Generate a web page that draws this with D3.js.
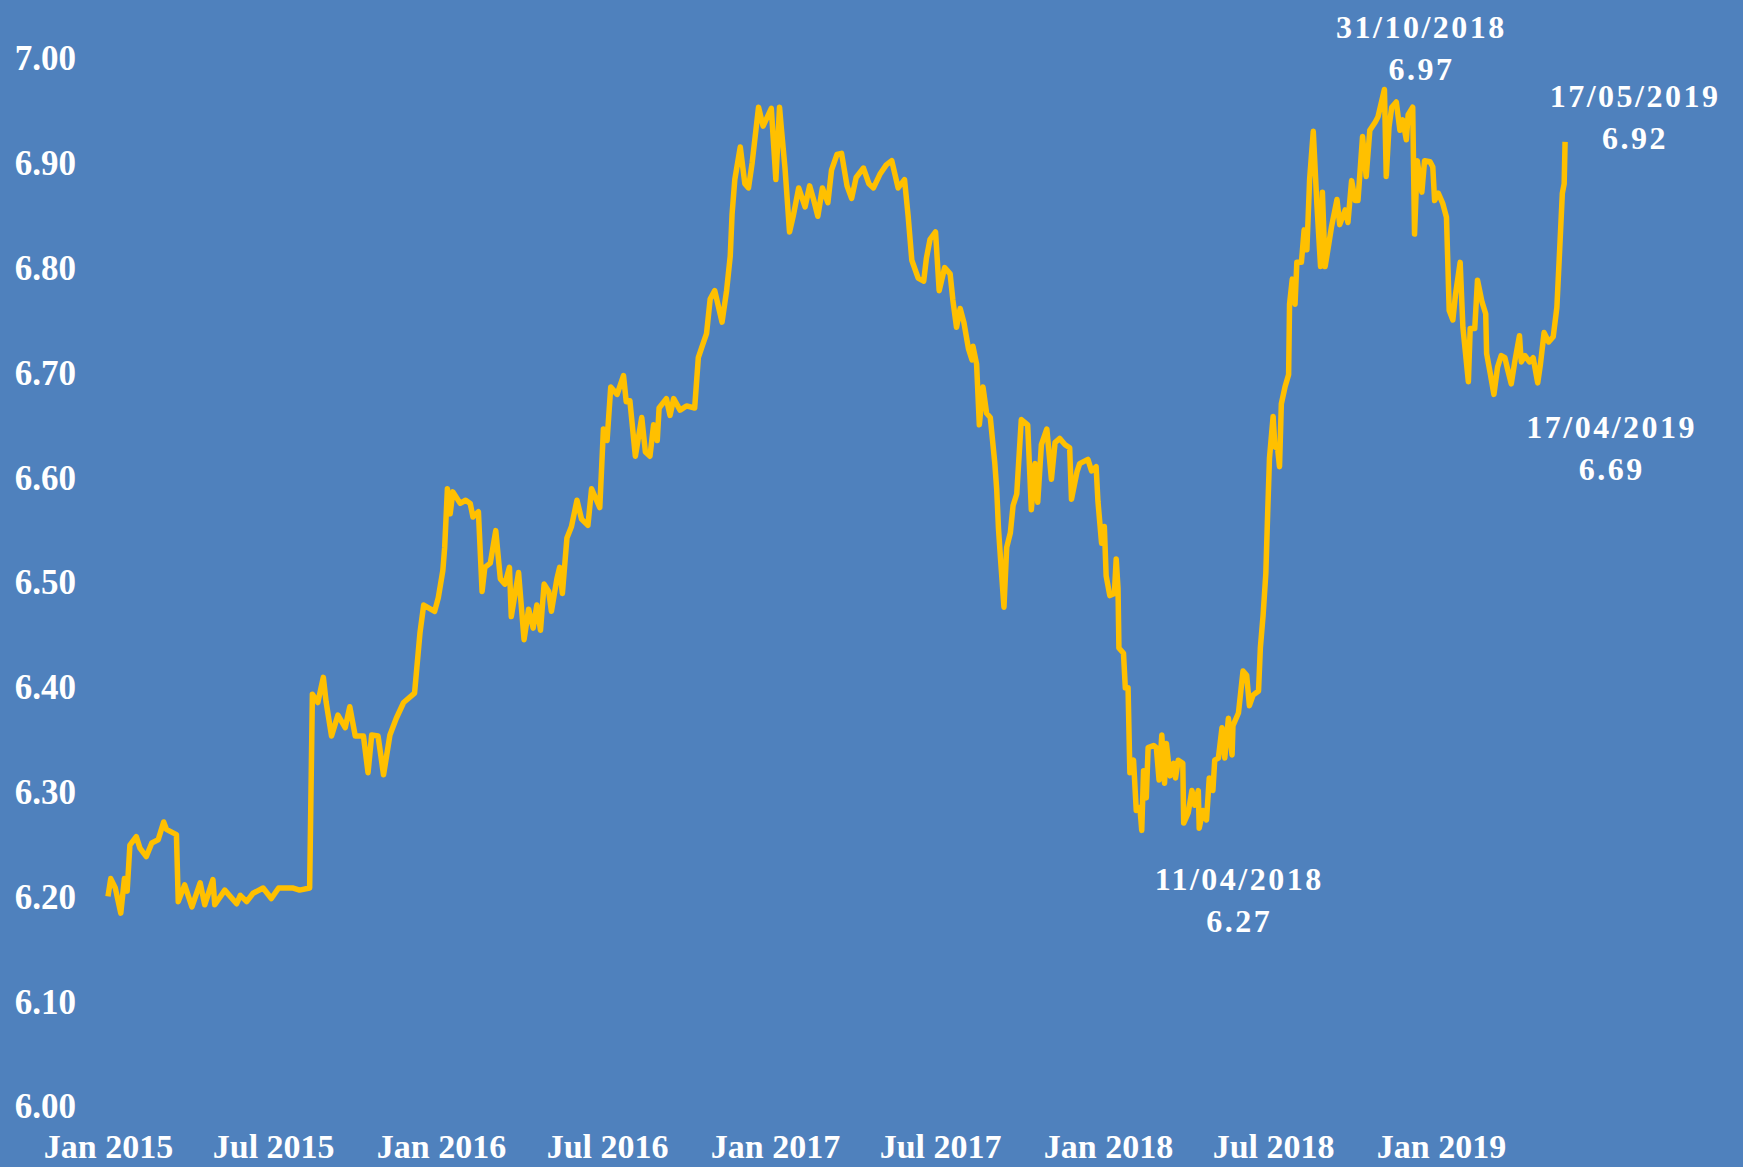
<!DOCTYPE html>
<html>
<head>
<meta charset="utf-8">
<script src="https://cdn.jsdelivr.net/npm/d3@7"></script>
<style>
  body { margin: 0; background: #4f81bd; }
  svg text { font-family: "Liberation Serif", "DejaVu Serif", serif; font-weight: bold; fill: #fff; }
</style>
</head>
<body>
<div class="report"></div>
<script>
// USD/CNY
var dates = [
  "2015-01-01","2015-01-04","2015-01-09","2015-01-15","2015-01-19","2015-01-22","2015-01-25","2015-02-01","2015-02-05","2015-02-12",
  "2015-02-18","2015-02-25","2015-03-03","2015-03-06","2015-03-17","2015-03-19","2015-03-26","2015-04-03","2015-04-12","2015-04-17",
  "2015-04-26","2015-04-28","2015-05-09","2015-05-22","2015-05-26","2015-06-02","2015-06-09","2015-06-20","2015-06-29","2015-07-07",
  "2015-07-23","2015-07-30","2015-08-10","2015-08-13","2015-08-19","2015-08-25","2015-08-28","2015-09-03","2015-09-10","2015-09-18",
  "2015-09-23","2015-09-29","2015-10-08","2015-10-13","2015-10-17","2015-10-24","2015-10-30","2015-11-06","2015-11-13","2015-11-21",
  "2015-12-03","2015-12-09","2015-12-13","2015-12-25","2015-12-29","2016-01-03","2016-01-05","2016-01-08","2016-01-11","2016-01-14",
  "2016-01-22","2016-01-28","2016-02-02","2016-02-05","2016-02-11","2016-02-15","2016-02-18","2016-02-24","2016-03-01","2016-03-06",
  "2016-03-11","2016-03-16","2016-03-18","2016-03-26","2016-04-01","2016-04-06","2016-04-11","2016-04-15","2016-04-19","2016-04-23",
  "2016-04-28","2016-05-01","2016-05-07","2016-05-10","2016-05-13","2016-05-18","2016-05-23","2016-05-29","2016-06-03","2016-06-10",
  "2016-06-14","2016-06-23","2016-06-27","2016-07-01","2016-07-05","2016-07-12","2016-07-19","2016-07-22","2016-07-26","2016-08-01",
  "2016-08-08","2016-08-12","2016-08-17","2016-08-21","2016-08-25","2016-08-27","2016-09-04","2016-09-08","2016-09-12","2016-09-19",
  "2016-09-26","2016-10-05","2016-10-09","2016-10-14","2016-10-18","2016-10-22","2016-10-27","2016-11-04","2016-11-09","2016-11-13",
  "2016-11-15","2016-11-18","2016-11-24","2016-11-29","2016-12-03","2016-12-07","2016-12-14","2016-12-19","2016-12-28","2017-01-02",
  "2017-01-06","2017-01-08","2017-01-12","2017-01-17","2017-01-21","2017-01-27","2017-02-03","2017-02-08","2017-02-12","2017-02-17",
  "2017-02-22","2017-02-28","2017-03-04","2017-03-10","2017-03-15","2017-03-21","2017-03-26","2017-03-31","2017-04-08","2017-04-14",
  "2017-04-19","2017-04-26","2017-05-03","2017-05-09","2017-05-16","2017-05-23","2017-05-27","2017-05-31","2017-06-07","2017-06-13",
  "2017-06-16","2017-06-20","2017-06-26","2017-06-30","2017-07-06","2017-07-12","2017-07-15","2017-07-19","2017-07-23","2017-07-27",
  "2017-08-01","2017-08-05","2017-08-06","2017-08-10","2017-08-13","2017-08-17","2017-08-21","2017-08-25","2017-08-30","2017-09-01",
  "2017-09-03","2017-09-05","2017-09-09","2017-09-12","2017-09-16","2017-09-19","2017-09-23","2017-09-28","2017-10-05","2017-10-09",
  "2017-10-13","2017-10-16","2017-10-20","2017-10-26","2017-10-31","2017-11-04","2017-11-09","2017-11-15","2017-11-20","2017-11-22",
  "2017-11-28","2017-12-01","2017-12-10","2017-12-14","2017-12-19","2017-12-21","2017-12-25","2017-12-28","2017-12-30","2018-01-03",
  "2018-01-08","2018-01-10","2018-01-12","2018-01-13","2018-01-18","2018-01-20","2018-01-23","2018-01-25","2018-01-29","2018-02-01",
  "2018-02-05","2018-02-07","2018-02-09","2018-02-12","2018-02-14","2018-02-20","2018-02-23","2018-02-26","2018-03-01","2018-03-04",
  "2018-03-06","2018-03-10","2018-03-14","2018-03-16","2018-03-19","2018-03-24","2018-03-25","2018-03-30","2018-04-03","2018-04-06",
  "2018-04-10","2018-04-11","2018-04-15","2018-04-19","2018-04-22","2018-04-26","2018-04-28","2018-05-02","2018-05-06","2018-05-09",
  "2018-05-13","2018-05-17","2018-05-18","2018-05-24","2018-05-29","2018-06-02","2018-06-05","2018-06-09","2018-06-15","2018-06-17",
  "2018-06-20","2018-06-23","2018-06-25","2018-06-27","2018-07-01","2018-07-03","2018-07-06","2018-07-08","2018-07-10","2018-07-14",
  "2018-07-18","2018-07-19","2018-07-22","2018-07-25","2018-07-27","2018-08-01","2018-08-04","2018-08-07","2018-08-10","2018-08-14",
  "2018-08-18","2018-08-22","2018-08-24","2018-08-27","2018-08-30","2018-09-03","2018-09-09","2018-09-12","2018-09-18","2018-09-21",
  "2018-09-25","2018-09-29","2018-10-02","2018-10-07","2018-10-11","2018-10-15","2018-10-21","2018-10-24","2018-10-31","2018-11-02",
  "2018-11-05","2018-11-08","2018-11-13","2018-11-17","2018-11-20","2018-11-24","2018-11-26","2018-12-01","2018-12-03","2018-12-06",
  "2018-12-11","2018-12-14","2018-12-20","2018-12-23","2018-12-25","2018-12-29","2019-01-03","2019-01-07","2019-01-10","2019-01-14",
  "2019-01-17","2019-01-22","2019-01-25","2019-01-31","2019-02-02","2019-02-07","2019-02-10","2019-02-15","2019-02-19","2019-02-20",
  "2019-02-24","2019-02-28","2019-03-04","2019-03-08","2019-03-12","2019-03-15","2019-03-19","2019-03-23","2019-03-28","2019-03-30",
  "2019-04-03","2019-04-08","2019-04-12","2019-04-17","2019-04-20","2019-04-24","2019-04-29","2019-05-04","2019-05-08","2019-05-11",
  "2019-05-14","2019-05-16","2019-05-17"
];

var rates = [
  6.200,6.217,6.208,6.184,6.217,6.205,6.249,6.257,6.246,6.238,
  6.251,6.254,6.271,6.264,6.259,6.195,6.211,6.190,6.213,6.192,
  6.216,6.192,6.206,6.193,6.201,6.195,6.203,6.208,6.198,6.208,
  6.208,6.206,6.208,6.393,6.385,6.409,6.386,6.353,6.373,6.361,
  6.381,6.353,6.353,6.318,6.354,6.353,6.316,6.354,6.370,6.385,
  6.394,6.452,6.478,6.472,6.485,6.511,6.533,6.589,6.565,6.586,
  6.575,6.578,6.575,6.562,6.567,6.491,6.514,6.518,6.549,6.503,
  6.498,6.514,6.467,6.509,6.445,6.474,6.456,6.478,6.454,6.498,
  6.491,6.472,6.503,6.514,6.489,6.542,6.553,6.578,6.560,6.554,
  6.589,6.571,6.646,6.635,6.686,6.679,6.697,6.672,6.673,6.620,
  6.657,6.624,6.620,6.650,6.635,6.666,6.675,6.659,6.675,6.664,
  6.668,6.666,6.714,6.727,6.737,6.770,6.778,6.748,6.778,6.811,
  6.851,6.884,6.915,6.880,6.876,6.900,6.953,6.935,6.952,6.884,
  6.953,6.933,6.895,6.834,6.849,6.876,6.858,6.878,6.866,6.849,
  6.876,6.862,6.893,6.908,6.909,6.878,6.866,6.886,6.895,6.880,
  6.876,6.889,6.898,6.902,6.876,6.884,6.849,6.807,6.790,6.787,
  6.809,6.827,6.834,6.778,6.800,6.794,6.769,6.743,6.761,6.748,
  6.723,6.712,6.725,6.708,6.650,6.686,6.661,6.657,6.613,6.589,
  6.551,6.525,6.476,6.533,6.547,6.573,6.584,6.655,6.650,6.569,
  6.613,6.576,6.631,6.646,6.598,6.633,6.637,6.631,6.628,6.579,
  6.605,6.613,6.617,6.606,6.610,6.577,6.537,6.553,6.506,6.487,
  6.489,6.522,6.494,6.437,6.432,6.399,6.399,6.318,6.330,6.282,
  6.285,6.263,6.320,6.294,6.342,6.344,6.342,6.311,6.354,6.308,
  6.346,6.315,6.327,6.313,6.330,6.327,6.270,6.280,6.301,6.287,
  6.301,6.265,6.282,6.273,6.313,6.301,6.330,6.332,6.361,6.332,
  6.370,6.335,6.363,6.375,6.415,6.411,6.382,6.392,6.396,6.437,
  6.468,6.508,6.565,6.618,6.658,6.629,6.627,6.610,6.670,6.686,
  6.698,6.765,6.789,6.765,6.805,6.805,6.836,6.817,6.884,6.930,
  6.860,6.801,6.872,6.801,6.817,6.839,6.865,6.841,6.855,6.843,
  6.883,6.864,6.864,6.925,6.887,6.931,6.939,6.944,6.970,6.887,
  6.934,6.953,6.958,6.931,6.941,6.922,6.946,6.953,6.832,6.902,
  6.872,6.902,6.901,6.896,6.864,6.871,6.861,6.848,6.759,6.750,
  6.775,6.805,6.743,6.691,6.742,6.742,6.788,6.767,6.756,6.718,
  6.699,6.679,6.705,6.716,6.714,6.703,6.689,6.711,6.735,6.710,
  6.716,6.710,6.714,6.690,6.708,6.738,6.729,6.734,6.762,6.816,
  6.871,6.880,6.920
];

var yTicks = [6.0, 6.1, 6.2, 6.3, 6.4, 6.5, 6.6, 6.7, 6.8, 6.9, 7.0];

// highlighted points: date, label value
var noteDates = ["2018-10-31", "2019-05-17", "2019-04-17", "2018-04-11"];
var noteValues = [6.97, 6.92, 6.69, 6.27];
var noteLabels = ["31/10/2018", "17/05/2019", "17/04/2019", "11/04/2018"];

var parse = d3.timeParse("%Y-%m-%d");
var data = dates.map(function (d, i) { return { date: parse(d), value: rates[i] }; });

var width = 1743, height = 1167;

var svg = d3.select(".report").append("svg")
    .attr("width", width)
    .attr("height", height);

svg.append("rect")
    .attr("width", width)
    .attr("height", height)
    .attr("fill", "#4f81bd");

var x = d3.scaleTime()
    .domain([parse("2015-01-01"), parse("2019-01-01")])
    .range([108, 1441]);

var y = d3.scaleLinear()
    .domain([6, 7])
    .range([1106, 58]);

var yAxis = svg.append("g")
    .attr("transform", "translate(84,0)")
    .call(d3.axisLeft(y).tickValues(yTicks).tickFormat(d3.format(".2f")).tickSize(0).tickPadding(8));
yAxis.select(".domain").remove();
yAxis.selectAll("text")
    .attr("dy", "0.34em")
    .style("font-size", "35px");

var xAxis = svg.append("g")
    .attr("transform", "translate(0,1119)")
    .call(d3.axisBottom(x).ticks(d3.timeMonth.every(6)).tickFormat(d3.timeFormat("%b %Y")).tickSize(0).tickPadding(15));
xAxis.select(".domain").remove();
xAxis.selectAll("text")
    .style("font-size", "34px");

var line = d3.line()
    .x(function (d) { return x(d.date); })
    .y(function (d) { return y(d.value); });

svg.append("path")
    .datum(data)
    .attr("fill", "none")
    .attr("stroke", "#ffc000")
    .attr("stroke-width", 5.5)
    .attr("stroke-linejoin", "round")
    .attr("d", line);

// label offsets from the point (dx, dy of first line)
var noteOffsets = [[37, -51], [70, -35], [74, 55], [40, 67]];

noteLabels.forEach(function (lab, i) {
    var px = x(parse(noteDates[i])) + noteOffsets[i][0];
    var py = y(noteValues[i]) + noteOffsets[i][1];
    var t = svg.append("text")
        .attr("text-anchor", "middle")
        .style("font-size", "32px")
        .style("letter-spacing", "2.5px");
    t.append("tspan").attr("x", px).attr("y", py).text(lab);
    t.append("tspan").attr("x", px).attr("y", py + 42).text(noteValues[i].toFixed(2));
});
</script>
</body>
</html>
